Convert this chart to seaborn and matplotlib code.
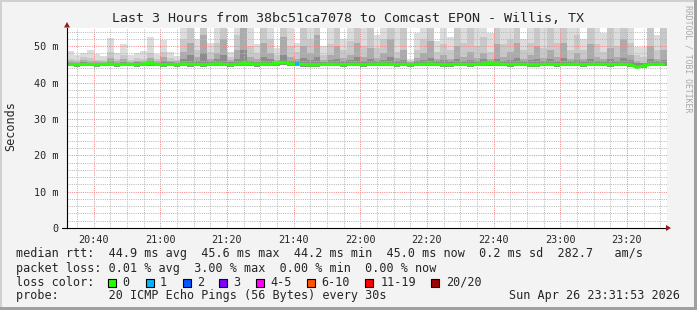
import numpy as np
import pandas as pd
import matplotlib
matplotlib.use("Agg")
import matplotlib.pyplot as plt
import seaborn as sns
from matplotlib.patches import Rectangle, Polygon
from matplotlib.ticker import MultipleLocator, FixedLocator

# ---------------- data ----------------
title = "Last 3 Hours from 38bc51ca7078 to Comcast EPON - Willis, TX"
x_start, x_end = "20:32", "23:32"
tick_labels = ["20:40", "21:00", "21:20", "21:40", "22:00", "22:20", "22:40", "23:00", "23:20"]
y_ticks = [0, 10, 20, 30, 40, 50]
y_tick_labels = ["0", "10 m", "20 m", "30 m", "40 m", "50 m"]

# one column every 2 minutes (minutes after 20:32, column centre)
step_min = 2

# median rtt (ms)
median = [45.0, 44.9, 45.0, 45.0, 44.9, 45.0, 45.1, 44.9, 45.0, 45.0,
          44.9, 45.1, 45.3, 45.0, 44.9, 45.0, 44.9, 45.1, 45.0, 45.0,
          44.9, 45.0, 45.1, 45.0, 44.9, 45.0, 45.2, 45.1, 45.0, 45.1,
          45.0, 45.3, 45.6, 45.1, 45.0, 45.0, 44.9, 44.9, 45.0, 45.0,
          45.0, 44.9, 45.0, 45.0, 44.9, 45.0, 45.0, 45.1, 45.0, 44.9,
          45.0, 44.9, 45.0, 45.0, 45.1, 45.0, 44.9, 44.9, 45.0, 45.0,
          44.9, 45.0, 45.1, 45.2, 45.1, 45.0, 44.9, 45.0, 45.0, 44.9,
          44.9, 45.0, 45.0, 44.9, 45.0, 45.0, 45.0, 44.9, 45.0, 45.0,
          45.0, 44.9, 45.0, 45.0, 44.9, 44.2, 44.6, 45.0, 45.0, 45.0]

# lost pings per column (out of 20)
loss = [0] * 34 + [1] + [0] * 55

# smoke: fastest ping and upper smoke layers (ms)
ping_min = [44.5, 44.4, 44.5, 44.5, 44.4, 44.5, 44.5, 44.4, 44.5, 44.5,
            44.4, 44.5, 44.6, 44.5, 44.4, 44.5, 44.4, 44.5, 44.4, 44.5,
            44.4, 44.5, 44.5, 44.5, 44.4, 44.5, 44.6, 44.5, 44.4, 44.5,
            44.5, 44.6, 44.8, 44.5, 44.5, 44.4, 44.4, 44.4, 44.5, 44.5,
            44.5, 44.4, 44.5, 44.5, 44.4, 44.5, 44.5, 44.5, 44.5, 44.4,
            44.5, 44.4, 44.5, 44.5, 44.5, 44.5, 44.4, 44.4, 44.5, 44.5,
            44.4, 44.5, 44.5, 44.6, 44.5, 44.5, 44.4, 44.5, 44.5, 44.4,
            44.4, 44.5, 44.5, 44.4, 44.5, 44.5, 44.5, 44.4, 44.5, 44.5,
            44.5, 44.4, 44.5, 44.5, 44.4, 43.9, 44.1, 44.5, 44.5, 44.5]

smoke_top = [48.7, 47.5, 48.0, 49.0, 47.8, 47.3, 52.3, 48.0, 50.5, 47.6,
             48.2, 48.6, 52.4, 47.8, 51.6, 48.3, 47.2, 60.0, 62.0, 52.0,
             61.0, 51.0, 58.0, 63.0, 48.5, 60.0, 64.0, 59.0, 50.5, 60.0,
             62.0, 49.5, 65.0, 58.0, 51.0, 61.0, 59.0, 63.0, 50.0, 58.0,
             62.0, 52.0, 60.0, 64.0, 59.0, 61.0, 53.0, 58.0, 63.0, 60.0,
             62.0, 46.5, 53.5, 60.0, 63.0, 51.5, 59.0, 52.5, 61.0, 58.0,
             62.0, 60.0, 59.0, 53.5, 63.0, 60.0, 58.0, 62.0, 52.0, 60.0,
             61.0, 59.0, 63.0, 58.0, 62.0, 60.0, 59.0, 52.0, 61.0, 58.0,
             53.5, 62.0, 59.0, 63.0, 60.0, 49.7, 49.7, 61.0, 53.0, 60.0]

smoke_mid = [46.5, 46.2, 47.0, 46.8, 46.3, 46.2, 48.5, 46.5, 47.5, 46.2,
             46.8, 46.5, 48.0, 46.4, 48.5, 46.8, 46.3, 52.0, 57.0, 49.0,
             56.0, 48.5, 51.0, 57.0, 47.0, 53.0, 58.0, 50.0, 48.0, 56.0,
             52.0, 47.5, 58.0, 50.0, 48.5, 56.0, 52.0, 57.0, 47.5, 50.5,
             56.0, 49.0, 51.5, 57.0, 50.0, 56.0, 49.5, 52.0, 56.0, 48.5,
             56.0, 46.0, 49.0, 52.0, 56.0, 48.5, 50.5, 49.0, 56.0, 51.0,
             56.0, 50.0, 52.5, 48.5, 56.0, 50.5, 52.0, 56.0, 49.0, 51.0,
             56.0, 49.5, 56.0, 51.0, 56.0, 49.0, 53.0, 49.0, 56.0, 50.5,
             48.5, 56.0, 50.0, 56.0, 51.0, 47.5, 47.0, 56.0, 49.0, 56.0]

smoke_dark = [45.8, 45.7, 46.2, 46.0, 45.8, 45.7, 46.8, 45.8, 46.4, 45.7,
              46.0, 45.9, 46.8, 45.8, 47.0, 46.0, 45.8, 48.5, 51.0, 47.0,
              53.0, 46.5, 48.0, 52.0, 46.2, 49.0, 56.0, 47.0, 46.5, 51.0,
              48.0, 46.2, 52.5, 47.0, 46.5, 50.0, 48.0, 53.0, 46.3, 47.5,
              50.0, 46.8, 47.5, 51.0, 47.0, 49.5, 46.8, 48.0, 52.0, 46.8,
              49.0, 45.6, 46.8, 48.0, 51.5, 46.5, 47.5, 46.5, 50.0, 47.0,
              48.5, 46.8, 48.0, 46.5, 50.5, 47.0, 48.5, 51.0, 46.5, 47.5,
              50.0, 46.8, 49.0, 47.0, 51.0, 46.6, 48.0, 46.5, 50.5, 47.0,
              46.5, 49.5, 47.0, 52.0, 47.5, 45.8, 45.5, 50.0, 46.5, 49.0]

smoke_core = [45.4, 45.4, 45.6, 45.5, 45.4, 45.4, 45.8, 45.5, 45.7, 45.4,
              45.6, 45.5, 45.9, 45.5, 46.0, 45.6, 45.5, 46.5, 47.5, 45.9,
              48.0, 45.8, 46.5, 47.5, 45.6, 46.5, 49.0, 46.0, 45.7, 47.0,
              46.5, 45.7, 47.5, 46.0, 45.8, 46.8, 46.2, 47.0, 45.7, 46.2,
              46.5, 45.9, 46.3, 47.0, 46.0, 46.5, 45.9, 46.3, 47.0, 45.9,
              46.2, 45.4, 45.9, 46.3, 46.8, 45.8, 46.2, 45.8, 46.5, 46.0,
              46.3, 45.8, 46.4, 45.8, 46.6, 46.0, 46.3, 46.8, 45.8, 46.1,
              46.5, 45.9, 46.4, 46.0, 46.7, 45.8, 46.3, 45.8, 46.6, 46.0,
              45.8, 46.4, 46.0, 46.8, 46.1, 45.5, 45.3, 46.5, 45.9, 46.3]

loss_labels = ["0", "1", "2", "3", "4-5", "6-10", "11-19", "20/20"]
loss_colors = ["#26ff00", "#00b8ff", "#0059ff", "#7e00ff", "#ff00ff", "#ff5500", "#ff0000", "#a10000"]

row_rtt = "median rtt:  44.9 ms avg  45.6 ms max  44.2 ms min  45.0 ms now  0.2 ms sd  282.7   am/s"
row_loss = "packet loss: 0.01 % avg  3.00 % max  0.00 % min  0.00 % now"
row_color = "loss color:"
row_probe = "probe:       20 ICMP Echo Pings (56 Bytes) every 30s"
stamp = "Sun Apr 26 23:31:53 2026"
side_text = "RRDTOOL / TOBI OETIKER"

# ---------------- helpers ----------------
def hm(s):
    h, m = s.split(":")
    return int(h) * 60 + int(m)

t0, t1 = hm(x_start), hm(x_end)
t = np.array([t0 + step_min / 2 + i * step_min for i in range(len(median))])
df = pd.DataFrame({"t": t, "median": median, "loss": loss})

W, H = 697, 310
def fx(px): return px / W
def fy(py): return 1 - py / H

MONO = "DejaVu Sans Mono"
sns.set_style("white")
plt.rcParams["font.family"] = [MONO]

fig = plt.figure(figsize=(W / 100, H / 100), dpi=100, facecolor="#F3F3F3")
ax = fig.add_axes([fx(67), fy(228), 600 / W, 200 / H])
ax.set_facecolor("white")
ax.set_xlim(t0, t1)
ax.set_ylim(0, 55)

# smoke layers
med = np.array(median)
ax.bar(t, med - np.array(ping_min), bottom=ping_min, width=step_min, color="#909090", linewidth=0, zorder=1)
for arr, col in [(smoke_top, "#dcdcdc"), (smoke_mid, "#c8c8c8"), (smoke_dark, "#ababab"), (smoke_core, "#8c8c8c")]:
    ax.bar(t, np.array(arr) - med, bottom=med, width=step_min, color=col, linewidth=0, zorder=1)

# median line
sns.lineplot(data=df, x="t", y="median", ax=ax, color=loss_colors[0], linewidth=2.3,
             estimator=None, zorder=4)
for i, l in enumerate(loss):
    if l > 0:
        ax.plot([t[i] - 0.6, t[i] + 0.6], [median[i], median[i]],
                color=loss_colors[min(l, 7)], linewidth=2.6, solid_capstyle="butt", zorder=5)
ax.set_xlabel("")
ax.set_ylabel("")

# grid & ticks
ax.xaxis.set_major_locator(FixedLocator([hm(s) for s in tick_labels]))
ax.set_xticklabels(tick_labels)
ax.xaxis.set_minor_locator(MultipleLocator(5))
ax.set_yticks(y_ticks)
ax.set_yticklabels(y_tick_labels)
ax.yaxis.set_minor_locator(MultipleLocator(2))
ax.set_axisbelow(False)
ax.grid(which="minor", color="#b8b8b8", linestyle=(0, (1, 1.2)), linewidth=0.72)
ax.grid(which="major", color="#f28888", linestyle=(0, (1, 1.2)), linewidth=0.72)
ax.tick_params(axis="x", which="major", direction="out", length=2.2, width=0.72, color="#e07070",
               pad=3, labelsize=7.3)
ax.tick_params(axis="x", which="minor", direction="out", length=1.4, width=0.72, color="#c0c0c0")
ax.tick_params(axis="y", which="major", direction="out", length=3.2, width=0.72, color="#e07070",
               pad=3.2, labelsize=7.3)
ax.tick_params(axis="y", which="minor", length=0)
for lab in ax.get_xticklabels() + ax.get_yticklabels():
    lab.set_fontfamily(MONO)

for s in ["top", "right"]:
    ax.spines[s].set_visible(False)
for s in ["left", "bottom"]:
    ax.spines[s].set_color("black")
    ax.spines[s].set_linewidth(0.8)
    ax.spines[s].set_zorder(6)

# axis arrows
fig.add_artist(Polygon([[fx(64), fy(27.5)], [fx(70), fy(27.5)], [fx(67), fy(22)]],
                       closed=True, facecolor="#9a1a1a", edgecolor="none", transform=fig.transFigure))
fig.add_artist(Polygon([[fx(666), fy(225)], [fx(666), fy(231)], [fx(671), fy(228)]],
                       closed=True, facecolor="#9a1a1a", edgecolor="none", transform=fig.transFigure))
fig.add_artist(plt.Line2D([fx(62), fx(67)], [fy(228), fy(228)], color="black", linewidth=0.8,
                          transform=fig.transFigure))

# titles
fig.text(fx(348.5), fy(19), title, ha="center", va="center", fontsize=9.6, family=MONO)
fig.text(fx(11), fy(126), "Seconds", rotation=90, ha="center", va="center", fontsize=8.5, family=MONO)
fig.text(fx(688), fy(5), side_text, rotation=270, ha="center", va="top", fontsize=5.9,
         family=MONO, color="#a8a8a8")

# legend rows
kw = dict(ha="left", va="center", fontsize=8.5, family=MONO)
fig.text(fx(16), fy(254), row_rtt, **kw)
fig.text(fx(16), fy(268.3), row_loss, **kw)
fig.text(fx(16), fy(282.3), row_color, **kw)
fig.text(fx(16), fy(296), row_probe, **kw)
fig.text(fx(680), fy(296), stamp, ha="right", va="center", fontsize=8.5, family=MONO)

box_x = [108, 146, 183, 219, 256, 307, 365, 431]
lab_x = [122.7, 160, 196.7, 233, 270.7, 321.7, 380.7, 446]
for bx, lx, lab, col in zip(box_x, lab_x, loss_labels, loss_colors):
    fig.add_artist(Rectangle((fx(bx), fy(286.5)), 8 / W, 8 / H, facecolor=col, edgecolor="black",
                             linewidth=0.8, transform=fig.transFigure))
    fig.text(fx(lx), fy(282.3), lab, **kw)

# image frame
fig.add_artist(Rectangle((0, fy(2)), 1, 2 / H, facecolor="#d0d0d0", edgecolor="none", transform=fig.transFigure))
fig.add_artist(Rectangle((0, 0), 2 / W, 1, facecolor="#d0d0d0", edgecolor="none", transform=fig.transFigure))
fig.add_artist(Rectangle((fx(694), 0), 3 / W, 1, facecolor="#a0a0a0", edgecolor="none", transform=fig.transFigure))
fig.add_artist(Rectangle((0, 0), 1, 3 / H, facecolor="#a0a0a0", edgecolor="none", transform=fig.transFigure))

fig.savefig("out.png", dpi=100, facecolor=fig.get_facecolor())
